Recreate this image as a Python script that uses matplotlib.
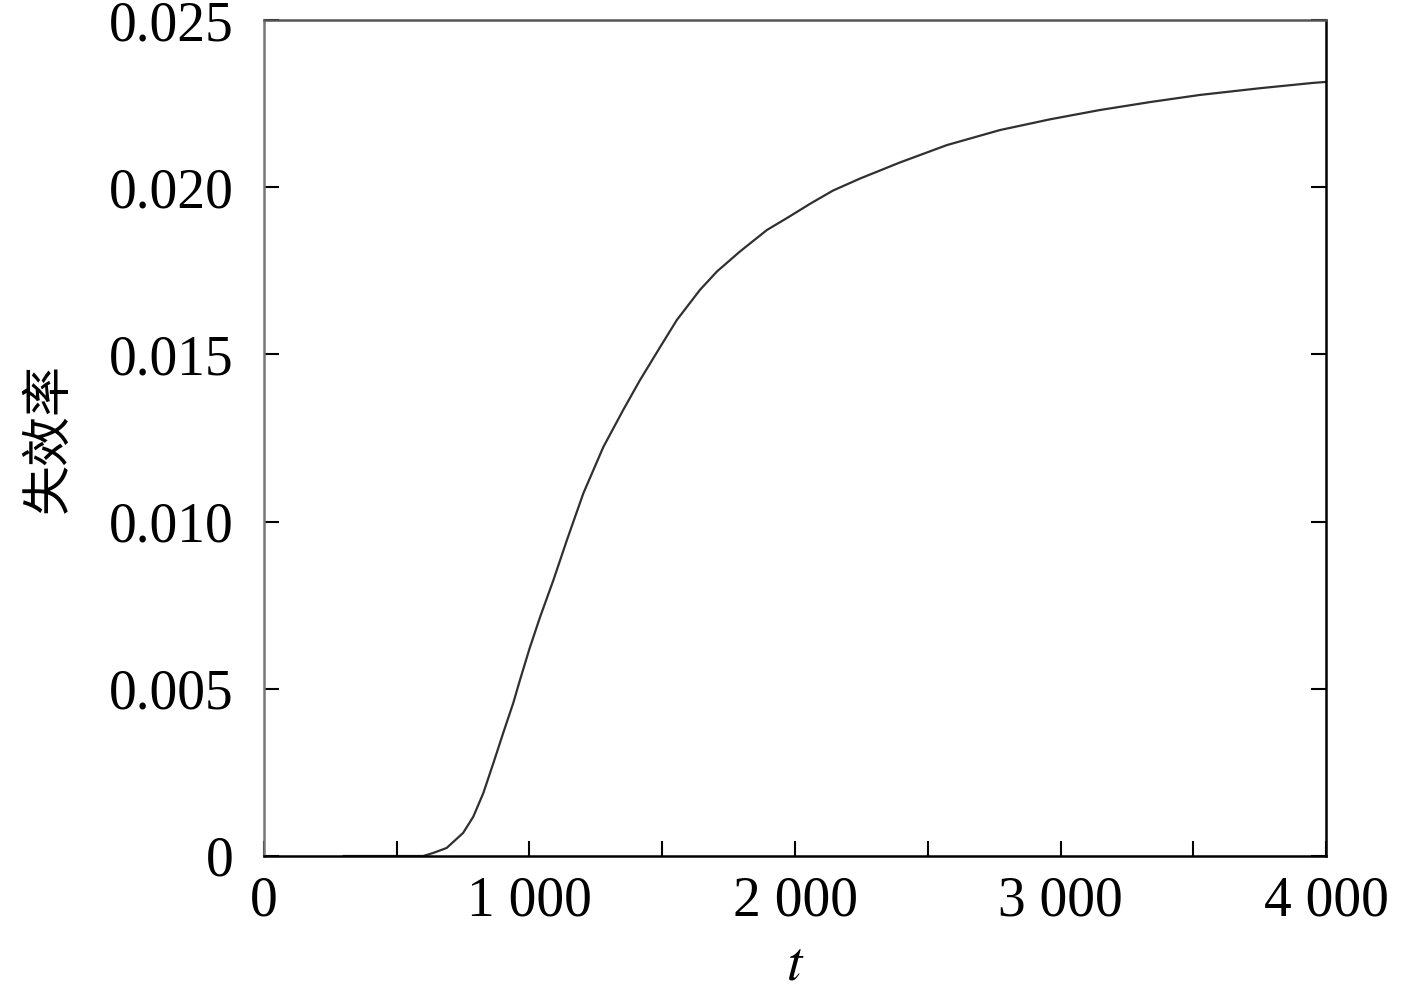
import matplotlib.pyplot as plt
from matplotlib.ticker import FuncFormatter, MultipleLocator

# curve
t = [300, 400, 500, 600, 637, 688, 750, 788, 826, 864, 901, 939, 964, 1000,
     1040, 1090, 1141, 1203, 1278, 1353, 1416, 1492, 1555, 1642, 1706, 1793,
     1894, 1970, 2060, 2143, 2245, 2395, 2572, 2772, 2960, 3149, 3340, 3525,
     3750, 3951, 4000]
rate = [0, 0, 0, 0, 0.00009, 0.00024, 0.00069, 0.00117, 0.00188, 0.00278,
        0.00368, 0.00458, 0.00526, 0.00620, 0.00715, 0.00825, 0.00945,
        0.01085, 0.01223, 0.01334, 0.01423, 0.01522, 0.01603, 0.01693,
        0.01748, 0.01808, 0.01872, 0.01908, 0.01952, 0.01990, 0.02026,
        0.02074, 0.02126, 0.02171, 0.02203, 0.02231, 0.02255, 0.02276,
        0.02296, 0.02312, 0.02315]

x_ticks = [0, 1000, 2000, 3000, 4000]
y_ticks = [0, 0.005, 0.010, 0.015, 0.020, 0.025]

plt.rcParams['font.family'] = ['Liberation Serif', 'Noto Sans CJK SC']
plt.rcParams['mathtext.fontset'] = 'stix'

fig = plt.figure(figsize=(14.17, 9.92), dpi=100)
ax = fig.add_axes([0.1863, 0.1371, 0.7495, 0.8427])

ax.plot(t, rate, color='#303030', lw=1.6)

ax.set_xlim(0, 4000)
ax.set_ylim(0, 0.025)
ax.set_xticks(x_ticks)
ax.set_yticks(y_ticks)
ax.xaxis.set_minor_locator(MultipleLocator(500))
ax.xaxis.set_major_formatter(FuncFormatter(lambda v, p: f'{int(v):,}'.replace(',', ' ')))
ax.yaxis.set_major_formatter(FuncFormatter(lambda v, p: '0' if v == 0 else f'{v:.3f}'))

ax.tick_params(axis='both', which='both', direction='in', labelsize=40, length=0)
ax.tick_params(axis='x', which='both', length=11, width=1.5, top=False, pad=14)
ax.tick_params(axis='y', which='major', length=11, width=1.5, right=True, pad=22)

for s in ax.spines.values():
    s.set_linewidth(1.8)
ax.spines['top'].set_color('#555555')
ax.spines['left'].set_color('#777777')

ax.set_xlabel('$t$', fontsize=40, labelpad=9)
ax.set_ylabel('失效率', fontsize=36, family=['Noto Sans CJK SC'], labelpad=24)

fig.savefig('out.png', dpi=100)
